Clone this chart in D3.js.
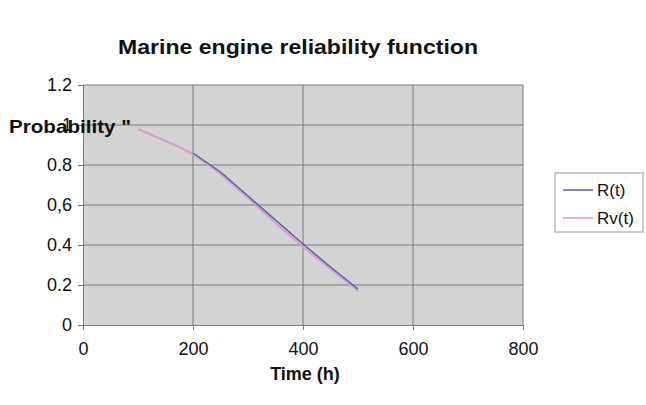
<!DOCTYPE html>
<html>
<head>
<meta charset="utf-8">
<script src="https://cdn.jsdelivr.net/npm/d3@7"></script>
<style>
  body { margin: 0; background: #fff; }
  text { font-family: "Liberation Sans", Arial, sans-serif; fill: #111; }
</style>
</head>
<body>
<svg id="svg" width="646" height="405"></svg>
<script>
// data
const timeR = [200, 250, 300, 350, 400, 450, 500];
const valuesR = [0.86, 0.765, 0.645, 0.525, 0.405, 0.29, 0.18];
const timeRv = [100, 175, 200, 250, 300, 350, 400, 450, 500];
const valuesRv = [0.98, 0.89, 0.855, 0.755, 0.635, 0.51, 0.39, 0.28, 0.17];
const xTicks = [0, 200, 400, 600, 800];
const yTicks = [0, 0.2, 0.4, 0.6, 0.8, 1, 1.2];
const yTickLabels = ["0", "0.2", "0.4", "0,6", "0.8", "1", "1.2"];
const seriesNames = ["R(t)", "Rv(t)"];
const seriesColors = ["#5c5c9e", "#d79bd2"];

const plotLeft = 83, plotRight = 523, plotTop = 85, plotBottom = 325;

const svg = d3.select("svg");

const xScale = d3.scaleLinear().domain([0, 800]).range([plotLeft, plotRight]);
const yScale = d3.scaleLinear().domain([0, 1.2]).range([plotBottom, plotTop]);

// grey plot area
svg.append("rect")
  .attr("x", plotLeft).attr("y", plotTop)
  .attr("width", plotRight - plotLeft).attr("height", plotBottom - plotTop)
  .attr("fill", "#d3d3d3");

// grid
svg.append("g")
  .selectAll("line")
  .data(yTicks.slice(1))
  .enter()
  .append("line")
  .attr("x1", plotLeft).attr("x2", plotRight)
  .attr("y1", d => yScale(d)).attr("y2", d => yScale(d))
  .attr("stroke", "#7a7a7a").attr("stroke-width", 1);

svg.append("g")
  .selectAll("line")
  .data(xTicks.slice(1))
  .enter()
  .append("line")
  .attr("x1", d => xScale(d)).attr("x2", d => xScale(d))
  .attr("y1", plotTop).attr("y2", plotBottom)
  .attr("stroke", "#7a7a7a").attr("stroke-width", 1);

// axes
const xAxis = svg.append("g")
  .attr("transform", `translate(0, ${plotBottom})`)
  .call(d3.axisBottom(xScale).tickValues(xTicks).tickSize(5).tickPadding(12));
const yAxis = svg.append("g")
  .attr("transform", `translate(${plotLeft}, 0)`)
  .call(d3.axisLeft(yScale).tickValues(yTicks).tickSize(5).tickPadding(6)
    .tickFormat((d, i) => yTickLabels[i]));

[xAxis, yAxis].forEach(a => {
  a.select(".domain").attr("stroke", "#7a7a7a");
  a.selectAll(".tick line").attr("stroke", "#7a7a7a");
  a.selectAll(".tick text")
    .attr("font-size", 18)
    .attr("font-family", "Liberation Sans, Arial, sans-serif")
    .attr("fill", "#111");
});

// lines
const line = d3.line()
  .x(d => xScale(d[0]))
  .y(d => yScale(d[1]));

svg.append("path")
  .datum(timeRv.map((t, i) => [t, valuesRv[i]]))
  .attr("d", line)
  .attr("fill", "none")
  .attr("stroke", seriesColors[1])
  .attr("stroke-width", 2);

svg.append("path")
  .datum(timeR.map((t, i) => [t, valuesR[i]]))
  .attr("d", line)
  .attr("fill", "none")
  .attr("stroke", seriesColors[0])
  .attr("stroke-width", 1.5);

// title + axis labels
svg.append("text")
  .attr("x", 298).attr("y", 54)
  .attr("text-anchor", "middle")
  .attr("font-size", 21).attr("font-weight", "bold")
  .attr("textLength", 360).attr("lengthAdjust", "spacingAndGlyphs")
  .text("Marine engine reliability function");

svg.append("text")
  .attr("x", 9).attr("y", 133)
  .attr("font-size", 19).attr("font-weight", "bold")
  .attr("textLength", 122).attr("lengthAdjust", "spacingAndGlyphs")
  .text("Probability \"");

svg.append("text")
  .attr("x", 305).attr("y", 380)
  .attr("text-anchor", "middle")
  .attr("font-size", 18).attr("font-weight", "bold")
  .text("Time (h)");

// legend
const legend = svg.append("g").attr("transform", "translate(555, 173)");
legend.append("rect")
  .attr("width", 88).attr("height", 59)
  .attr("fill", "#fff").attr("stroke", "#9a9a9a");
seriesNames.forEach((name, i) => {
  const y = 17 + i * 28;
  legend.append("line")
    .attr("x1", 8).attr("x2", 38)
    .attr("y1", y).attr("y2", y)
    .attr("stroke", seriesColors[i]).attr("stroke-width", 1.5);
  legend.append("text")
    .attr("x", 42).attr("y", y + 6)
    .attr("font-size", 17)
    .text(name);
});
</script>
</body>
</html>
